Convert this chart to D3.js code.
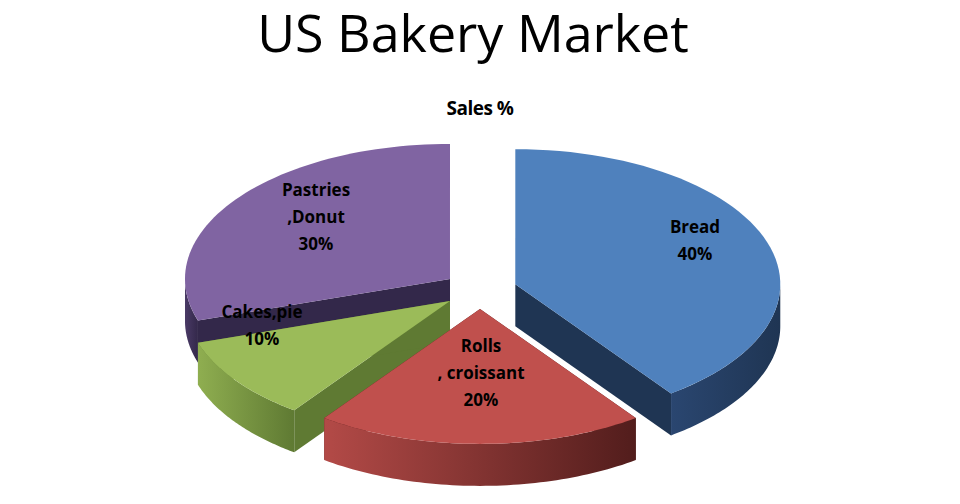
<!DOCTYPE html>
<html><head><meta charset="utf-8">
<script src="https://cdn.jsdelivr.net/npm/d3@7"></script>
<style>body{margin:0;background:#fff}</style>
</head><body>
<svg id="chart" width="960" height="504"></svg>
<script>
var categories = ['Bread', 'Rolls, croissant', 'Cakes,pie', 'Pastries,Donut'];
var values = [40, 20, 10, 30];
var labelLines = [['Bread', '40%'], ['Rolls', ', croissant', '20%'], ['Cakes,pie', '10%'], ['Pastries', ',Donut', '30%']];
var topColors = ['#4F81BD', '#C0504D', '#9BBB59', '#8064A2'];
var sideDark = ['#1F3553', '#521d1c', '#5f7a33', '#33284a'];
var sideLight = ['#2a4670', '#b34a47', '#8fae50', '#4a3a66'];

var svg = d3.select('#chart');
var cx = 480, cy = 290, rx = 265, ry = 135, depth = 42, explode = 0.14;

svg.append('text').attr('x', 473).attr('y', 52).attr('text-anchor', 'middle')
  .attr('font-family', 'Open Sans').attr('font-size', 52).text('US Bakery Market');
svg.append('text').attr('x', 480).attr('y', 115).attr('text-anchor', 'middle')
  .attr('font-family', 'Open Sans').attr('font-weight', 'bold').attr('font-size', 19)
  .attr('letter-spacing', -0.5).text('Sales %');

var pie = d3.pie().sort(null).value(function (d) { return d })
var arcs = pie(values);
var defs = svg.append('defs');

arcs.forEach(function (a, i) {
  var mid = (a.startAngle + a.endAngle) / 2;
  a.ox = explode * Math.sin(mid) * rx;
  a.oy = -explode * Math.cos(mid) * ry;
  a.i = i;
  var g = defs.append('linearGradient').attr('id', 'g' + i);
  g.append('stop').attr('offset', '0%').attr('stop-color', sideLight[i]);
  g.append('stop').attr('offset', '100%').attr('stop-color', sideDark[i]);
});

function pt(a, ang, r, z) {
  return [cx + a.ox + r * Math.sin(ang) * rx, cy + a.oy - r * Math.cos(ang) * ry + z];
}
function arcPts(a, a0, a1, z) {
  var pts = [], n = 60;
  for (var k = 0; k <= n; k++) pts.push(pt(a, a0 + (a1 - a0) * k / n, 1, z));
  return pts;
}
var line = d3.line();

var order = arcs.slice().sort(function (p, q) { return p.oy - q.oy });
order.forEach(function (a) {
  var i = a.i;
  var g = svg.append('g');
  // radial walls
  [a.startAngle, a.endAngle].forEach(function (ang) {
    var q = [pt(a, 0, 0, 0), pt(a, ang, 1, 0), pt(a, ang, 1, depth), pt(a, 0, 0, depth)];
    g.append('path').attr('d', line(q) + 'Z').attr('fill', sideDark[i]);
  });
  // outer wall (front half only)
  var s = Math.max(a.startAngle, Math.PI / 2), e = Math.min(a.endAngle, Math.PI * 1.5);
  if (e > s) {
    var pts = arcPts(a, s, e, 0).concat(arcPts(a, s, e, depth).reverse());
    g.append('path').attr('d', line(pts) + 'Z').attr('fill', 'url(#g' + i + ')');
  }
  // top face
  var top = [pt(a, 0, 0, 0)].concat(arcPts(a, a.startAngle, a.endAngle, 0));
  g.append('path').attr('d', line(top) + 'Z').attr('fill', topColors[i]);
});

var labelPos = [[695, 233], [481, 352], [262, 318], [316, 196]];
arcs.forEach(function (a, i) {
  var t = svg.append('text').attr('text-anchor', 'middle')
    .attr('font-family', 'Open Sans').attr('font-weight', 'bold').attr('font-size', 17)
    .attr('fill', '#000');
  labelLines[i].forEach(function (l, k) {
    t.append('tspan').attr('x', labelPos[i][0]).attr('y', labelPos[i][1] + k * 27).text(l);
  });
});
</script>
</body></html>
